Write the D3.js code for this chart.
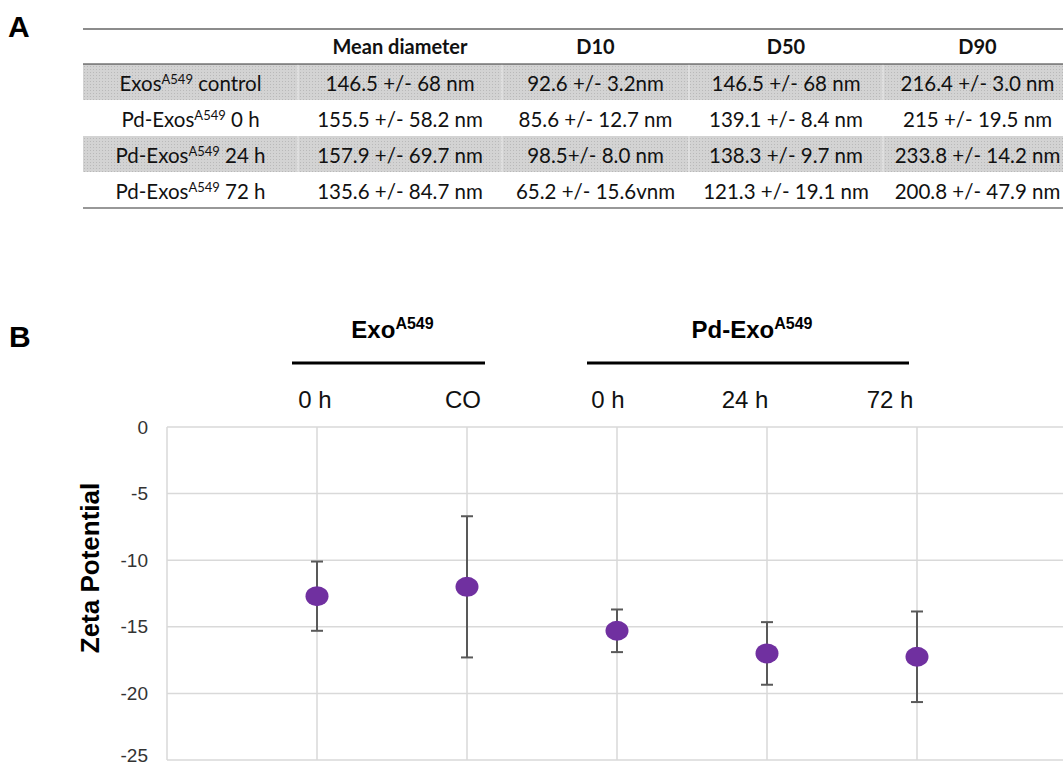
<!DOCTYPE html>
<html>
<head>
<meta charset="utf-8">
<script src="https://cdnjs.cloudflare.com/ajax/libs/d3/7.8.5/d3.min.js"></script>
<style>
    body { margin: 0; background: #fff; }
    svg { display: block; }
</style>
</head>
<body>
<div class="figure"></div>
<script>
// ---- panel A data ----
let tableHeaders = ["", "Mean diameter", "D10", "D50", "D90"];
let rowNames = [
    { pre: "Exos", sup: "A549", post: " control" },
    { pre: "Pd-Exos", sup: "A549", post: " 0 h" },
    { pre: "Pd-Exos", sup: "A549", post: " 24 h" },
    { pre: "Pd-Exos", sup: "A549", post: " 72 h" }
];
let meanDiameter = ["146.5 +/- 68 nm", "155.5 +/- 58.2 nm", "157.9 +/- 69.7 nm", "135.6 +/- 84.7 nm"];
let d10 = ["92.6 +/- 3.2nm", "85.6 +/- 12.7 nm", "98.5+/- 8.0 nm", "65.2 +/- 15.6vnm"];
let d50 = ["146.5 +/- 68 nm", "139.1 +/- 8.4 nm", "138.3 +/- 9.7 nm", "121.3 +/- 19.1 nm"];
let d90 = ["216.4 +/- 3.0 nm", "215 +/- 19.5 nm", "233.8 +/- 14.2 nm", "200.8 +/- 47.9 nm"];

// ---- panel B data ----
let conditions = ["0 h", "CO", "0 h", "24 h", "72 h"];
let zetaMean = [-12.7, -12.0, -15.3, -17.0, -17.25];
let zetaErr = [2.6, 5.3, 1.6, 2.35, 3.4];
let groups = [
    { name: "Exo", sup: "A549", from: 0, to: 1 },
    { name: "Pd-Exo", sup: "A549", from: 2, to: 4 }
];
let yTicks = [0, -5, -10, -15, -20, -25];

let width = 1063, height = 769;
let svg = d3.select(".figure").append("svg").attr("width", width).attr("height", height);

// panel letters
svg.append("text").attr("x", 8).attr("y", 37).text("A")
    .style("font-family", "Arial, 'Liberation Sans', sans-serif").style("font-weight", "bold").style("font-size", "30px");
svg.append("text").attr("x", 9).attr("y", 347).text("B")
    .style("font-family", "Arial, 'Liberation Sans', sans-serif").style("font-weight", "bold").style("font-size", "30px");

// ---------- table ----------
let colEdges = [83, 298, 502, 689, 883, 1072];
let tableTop = 29, headerBottom = 64, rowH = 36;
let tableFont = "Lato, 'Open Sans', sans-serif";

let defs = svg.append("defs");
let pat = defs.append("pattern").attr("id", "dots").attr("width", 3).attr("height", 3)
    .attr("patternUnits", "userSpaceOnUse");
pat.append("rect").attr("width", 3).attr("height", 3).attr("fill", "#d3d3d3");
pat.append("rect").attr("width", 1).attr("height", 1).attr("fill", "#b9b9b9");

let table = svg.append("g").attr("class", "table");
let rowData = rowNames.map(function (name, i) {
    return { name: name, cells: [meanDiameter[i], d10[i], d50[i], d90[i]], i: i };
});

// shaded rows
table.selectAll(".shade").data(rowData.filter(function (d) { return d.i % 2 == 0; }))
    .enter().append("rect")
    .attr("x", colEdges[0]).attr("y", function (d) { return headerBottom + d.i * rowH; })
    .attr("width", width - colEdges[0]).attr("height", rowH)
    .attr("fill", "url(#dots)");
// faint column separators in shaded rows
rowData.filter(function (d) { return d.i % 2 == 0; }).forEach(function (d) {
    colEdges.slice(1, 5).forEach(function (x) {
        table.append("line").attr("x1", x).attr("x2", x)
            .attr("y1", headerBottom + d.i * rowH).attr("y2", headerBottom + (d.i + 1) * rowH)
            .attr("stroke", "#ececec").attr("stroke-width", 1);
    });
});

// rules
table.append("line").attr("x1", colEdges[0]).attr("x2", width).attr("y1", tableTop).attr("y2", tableTop)
    .attr("stroke", "#666").attr("stroke-width", 1.5);
table.append("line").attr("x1", colEdges[0]).attr("x2", width).attr("y1", headerBottom).attr("y2", headerBottom)
    .attr("stroke", "#333").attr("stroke-width", 1.2);
let tableBottom = headerBottom + rowNames.length * rowH;
table.append("line").attr("x1", colEdges[0]).attr("x2", width).attr("y1", tableBottom).attr("y2", tableBottom)
    .attr("stroke", "#333").attr("stroke-width", 1.2);

function colCenter(c) { return (colEdges[c] + colEdges[c + 1]) / 2; }

table.selectAll(".head").data(tableHeaders).enter().append("text")
    .attr("x", function (d, c) { return colCenter(c); })
    .attr("y", 54)
    .attr("text-anchor", "middle")
    .style("font-family", tableFont).style("font-weight", "bold").style("font-size", "20px").style("fill", "#111")
    .text(function (d) { return d; });

let rowsG = table.selectAll(".trow").data(rowData).enter().append("g").attr("class", "trow");
let nameText = rowsG.append("text")
    .attr("x", colCenter(0))
    .attr("y", function (d) { return headerBottom + d.i * rowH + 27; })
    .attr("text-anchor", "middle")
    .style("font-family", tableFont).style("font-size", "20.5px").style("fill", "#111");
nameText.append("tspan").text(function (d) { return d.name.pre; });
nameText.append("tspan").attr("dy", -7).style("font-size", "13px").text(function (d) { return d.name.sup; });
nameText.append("tspan").attr("dy", 7).text(function (d) { return d.name.post; });

rowsG.each(function (d) {
    d3.select(this).selectAll(".cell").data(d.cells).enter().append("text")
        .attr("x", function (v, c) { return colCenter(c + 1); })
        .attr("y", headerBottom + d.i * rowH + 27)
        .attr("text-anchor", "middle")
        .style("font-family", tableFont).style("font-size", "20.5px").style("fill", "#111")
        .text(function (v) { return v; });
});

// ---------- zeta chart ----------
let plotLeft = 167, plotRight = 1067, plotTop = 427, plotBottom = 760;
let x = d3.scaleLinear().domain([-1, 5]).range([plotLeft, plotRight]);
let y = d3.scaleLinear().domain([-25, 0]).range([plotBottom, plotTop]);
let labelFont = "Arial, 'Liberation Sans', sans-serif";

let chart = svg.append("g").attr("class", "chart");
// horizontal grid
chart.selectAll(".hgrid").data(yTicks).enter().append("line")
    .attr("x1", plotLeft).attr("x2", plotRight)
    .attr("y1", function (d) { return y(d); }).attr("y2", function (d) { return y(d); })
    .attr("stroke", "#d9d9d9").attr("stroke-width", 1.5);
// vertical grid: left border + category lines
chart.selectAll(".vgrid").data([-1, 0, 1, 2, 3, 4]).enter().append("line")
    .attr("x1", function (d) { return x(d); }).attr("x2", function (d) { return x(d); })
    .attr("y1", plotTop).attr("y2", plotBottom)
    .attr("stroke", "#d9d9d9").attr("stroke-width", 1.5);

// y axis labels
let yAxis = d3.axisLeft(y).tickValues(yTicks).tickSize(0).tickPadding(19)
    .tickFormat(function (d) { return String(d); });
let yG = chart.append("g").attr("transform", "translate(" + plotLeft + ",0)").call(yAxis);
yG.select(".domain").remove();
yG.selectAll("text").style("font-family", labelFont).style("font-size", "19px").style("fill", "#333");
// bottom label sits at the page edge; lift it a touch so it stays whole
yG.selectAll("text").filter(function (d) { return d == -25; }).attr("dy", "0.1em");

chart.append("text")
    .attr("transform", "translate(99,568) rotate(-90)")
    .attr("text-anchor", "middle")
    .style("font-family", labelFont).style("font-weight", "bold").style("font-size", "26px")
    .text("Zeta Potential");

// error bars
let capHalf = 6;
let points = conditions.map(function (c, i) { return { i: i, mean: zetaMean[i], err: zetaErr[i] }; });
let bars = chart.selectAll(".err").data(points).enter().append("g").attr("class", "err")
    .attr("stroke", "#595959").attr("stroke-width", 2);
bars.append("line")
    .attr("x1", function (d) { return x(d.i); }).attr("x2", function (d) { return x(d.i); })
    .attr("y1", function (d) { return y(d.mean + d.err); }).attr("y2", function (d) { return y(d.mean - d.err); });
bars.append("line")
    .attr("x1", function (d) { return x(d.i) - capHalf; }).attr("x2", function (d) { return x(d.i) + capHalf; })
    .attr("y1", function (d) { return y(d.mean + d.err); }).attr("y2", function (d) { return y(d.mean + d.err); });
bars.append("line")
    .attr("x1", function (d) { return x(d.i) - capHalf; }).attr("x2", function (d) { return x(d.i) + capHalf; })
    .attr("y1", function (d) { return y(d.mean - d.err); }).attr("y2", function (d) { return y(d.mean - d.err); });

chart.selectAll(".pt").data(points).enter().append("ellipse")
    .attr("cx", function (d) { return x(d.i); })
    .attr("cy", function (d) { return y(d.mean); })
    .attr("rx", 11.5).attr("ry", 10)
    .attr("fill", "#7030a0");

// category labels above plot
let labelShift = [-2, -4, -9, -22, -27];
chart.selectAll(".cat").data(conditions).enter().append("text")
    .attr("x", function (d, i) { return x(i) + labelShift[i]; })
    .attr("y", 408)
    .attr("text-anchor", "middle")
    .style("font-family", labelFont).style("font-size", "24px").style("fill", "#111")
    .text(function (d) { return d; });

// group headers and rules
let groupRule = [{ a: 292, b: 485 }, { a: 587, b: 909 }];
groups.forEach(function (g, k) {
    chart.append("line").attr("x1", groupRule[k].a).attr("x2", groupRule[k].b)
        .attr("y1", 363).attr("y2", 363).attr("stroke", "#000").attr("stroke-width", 3);
    let t = chart.append("text")
        .attr("x", (groupRule[k].a + groupRule[k].b) / 2 + 4)
        .attr("y", 338)
        .attr("text-anchor", "middle")
        .style("font-family", labelFont).style("font-weight", "bold").style("font-size", "24px");
    t.append("tspan").text(g.name);
    t.append("tspan").attr("dy", -9).style("font-size", "16px").text(g.sup);
});
</script>
</body>
</html>
